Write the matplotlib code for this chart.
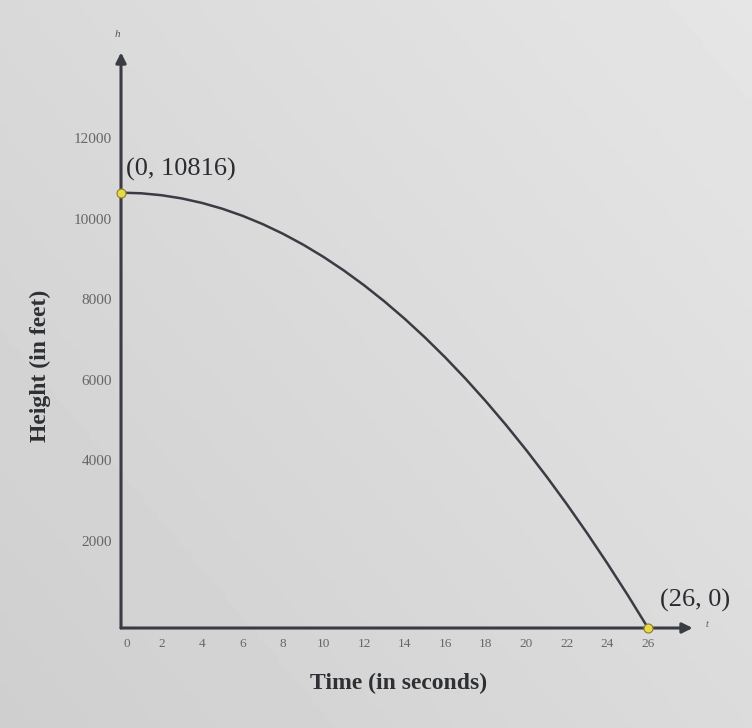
import matplotlib.pyplot as plt
import numpy as np

# values (time in s, height in ft)
t_vals = [0, 1, 2, 3, 4, 5, 6, 7, 8, 9, 10, 11, 12, 13,
          14, 15, 16, 17, 18, 19, 20, 21, 22, 23, 24, 25, 26]
h_vals = [10816, 10800, 10752, 10672, 10560, 10416, 10240, 10032, 9792, 9520,
          9216, 8880, 8512, 8112, 7680, 7216, 6720, 6192, 5632, 5040,
          4416, 3760, 3072, 2352, 1600, 816, 0]
x_ticks = [0, 2, 4, 6, 8, 10, 12, 14, 16, 18, 20, 22, 24, 26]
y_ticks = [2000, 4000, 6000, 8000, 10000, 12000]
marked = [(0, 10816), (26, 0)]

serif = ['Liberation Serif', 'DejaVu Serif']
ink = '#3a3c44'

fig = plt.figure(figsize=(7.52, 7.28), dpi=100)

# soft grey photo-like background
bg = fig.add_axes([0, 0, 1, 1])
gx, gy = np.meshgrid(np.linspace(0, 1, 200), np.linspace(0, 1, 200))
bg.imshow(0.81 + 0.09 * (0.55 * gx + 0.45 * gy), cmap='gray', vmin=0, vmax=1,
          extent=[0, 1, 0, 1], origin='lower', aspect='auto')
bg.axis('off')

ax = fig.add_axes([0, 0, 1, 1])
ax.patch.set_alpha(0)
ax.set_xlim(-5.97, 31.13)
ax.set_ylim(-2484, 15602)
ax.axis('off')

# axes with arrows
arrow = dict(arrowstyle='-|>', color=ink, lw=2.2, mutation_scale=15,
             shrinkA=0, shrinkB=0)
ax.annotate('', xy=(28.2, 0), xytext=(0, 0), arrowprops=arrow)
ax.annotate('', xy=(0, 14300), xytext=(0, 0), arrowprops=arrow)
ax.text(28.9, 80, 't', family=serif, fontsize=7, style='italic', color='#555',
        ha='center', va='center')
ax.text(-0.2, 14750, 'h', family=serif, fontsize=8, style='italic', color='#555',
        ha='center', va='center')

# curve and marked points
ax.plot(t_vals, h_vals, color=ink, lw=1.8, zorder=3)
ax.scatter([p[0] for p in marked], [p[1] for p in marked], s=42,
           color='#e8d84a', edgecolor='#8a7d2a', linewidth=0.8, zorder=4)
ax.text(0.25, 11380, '(0, 10816)', family=serif, fontsize=19, color='#2a2c30',
        ha='left', va='center')
ax.text(26.6, 680, '(26, 0)', family=serif, fontsize=19, color='#2a2c30',
        ha='left', va='center')

# tick labels
for xv in x_ticks:
    ax.text(xv + 0.3 * (xv == 0), -400, str(xv), family=serif, fontsize=9.5,
            color='#666', ha='center', va='center')
for yv in y_ticks:
    ax.text(-0.45, yv + 130, str(yv), family=serif, fontsize=11, color='#666',
            ha='right', va='center')

# axis titles
ax.text(13.7, -1370, 'Time (in seconds)', family=serif, fontsize=17,
        fontweight='bold', color='#2e3033', ha='center', va='center')
ax.text(-4.0, 6500, 'Height (in feet)', family=serif, fontsize=17,
        fontweight='bold', color='#2e3033', ha='center', va='center', rotation=90)

fig.savefig('out.png', dpi=100)
